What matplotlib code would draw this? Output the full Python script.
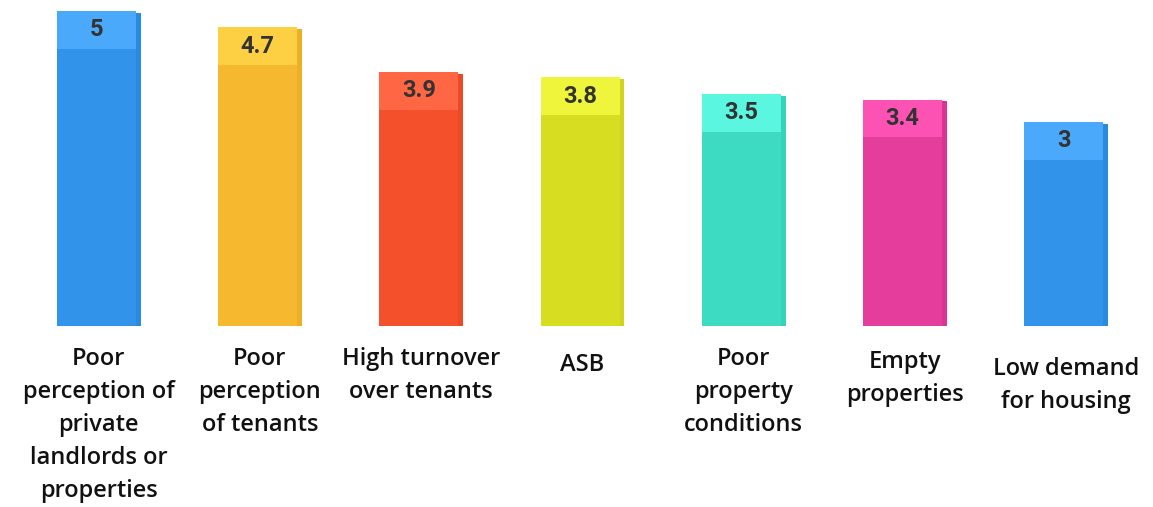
import matplotlib
matplotlib.use("Agg")
import matplotlib.pyplot as plt
from matplotlib.patches import Rectangle

# ranking scores per issue
categories = [
    "Poor\nperception of\nprivate\nlandlords or\nproperties",
    "Poor\nperception\nof tenants",
    "High turnover\nover tenants",
    "ASB",
    "Poor\nproperty\nconditions",
    "Empty\nproperties",
    "Low demand\nfor housing",
]
scores = [5, 4.7, 3.9, 3.8, 3.5, 3.4, 3]

front_colors = ["#3194ea", "#f6b82e", "#f5502c", "#d7de22", "#3edbc3", "#e43d9b", "#3194ea"]
top_colors = ["#4ba9fb", "#fdd044", "#ff6744", "#eef53a", "#5bf6df", "#fc52b4", "#4ba9fb"]
side_colors = ["#2a8ae0", "#eeae26", "#ec4924", "#cfd51d", "#37d2bb", "#da3591", "#2a8ae0"]

W, H = 1153, 507
fig = plt.figure(figsize=(W / 100, H / 100), dpi=100)
# value 0 sits at 326 px from the top, 55.5 px per unit
px_unit = 55.5
ax = fig.add_axes([18 / W, (H - 326) / H, 1129 / W, 326 / H])
ax.set_xlim(-0.5, 6.5)
ax.set_ylim(0, 326 / px_unit)
ax.axis("off")

bw = 0.52
cap = 0.68     # depth of the lit top face, in value units
side = 0.03

# small downward shift per label so the blocks sit like the original layout
label_drop = [0, 0, 0, 0.1, 0, 0.05, 0.18]

for i, (v, lab) in enumerate(zip(scores, categories)):
    x0 = i - bw / 2
    ax.add_patch(Rectangle((x0, 0), bw, v, facecolor=front_colors[i],
                           edgecolor="none"))
    ax.add_patch(Rectangle((x0 + bw - side, 0), side, v + cap * 0.95,
                           facecolor=side_colors[i], edgecolor="none"))
    ax.add_patch(Rectangle((x0, v), bw - side, cap,
                           facecolor=top_colors[i], edgecolor="none"))
    ax.text(i - side / 2, v + cap / 2, f"{v:g}", ha="center", va="center",
            fontsize=17, fontweight="bold", family="Roboto", color="#333333")
    ax.text(i, -0.38 - label_drop[i], lab, ha="center", va="top",
            fontsize=17, family="Open Sans", fontweight="semibold",
            color="#111111", linespacing=1.5, clip_on=False)

fig.savefig("out.png", dpi=100, facecolor="white")
